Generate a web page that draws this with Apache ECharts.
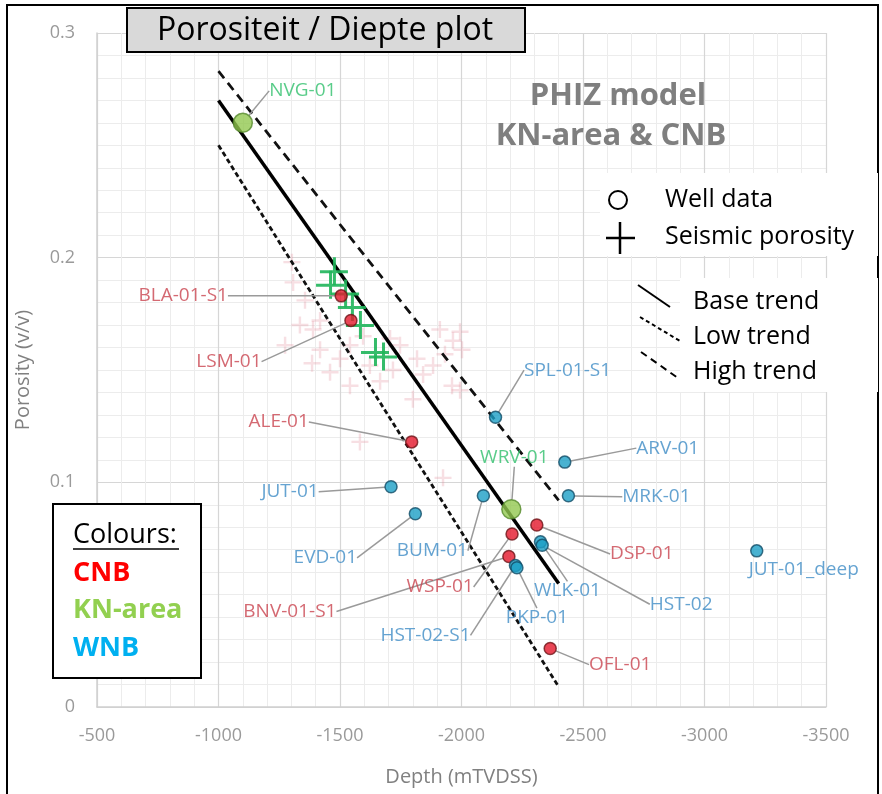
<!DOCTYPE html>
<html>
<head>
<meta charset="utf-8">
<script src="https://cdn.jsdelivr.net/npm/echarts@6/dist/echarts.min.js"></script>
<style>
  html, body { margin: 0; padding: 0; background: #fff; }
  #chart { width: 882px; height: 794px; }
</style>
</head>
<body>
<div id="chart"></div>
<script>
// ---- data ----
var wellNames  = ['NVG-01', 'BLA-01-S1', 'LSM-01', 'ALE-01', 'SPL-01-S1', 'ARV-01', 'MRK-01', 'JUT-01', 'EVD-01', 'BUM-01',
                  'WRV-01', 'DSP-01', 'WSP-01', 'WLK-01', 'HST-02', 'BNV-01-S1', 'HST-02-S1', 'PKP-01', 'OFL-01', 'JUT-01_deep'];
var wellDepth  = [-1100, -1505, -1545, -1795, -2140, -2425, -2440, -1710, -1810, -2090,
                  -2205, -2310, -2208, -2325, -2332, -2195, -2222, -2228, -2365, -3215];
var wellPhi    = [0.260, 0.183, 0.172, 0.118, 0.129, 0.109, 0.094, 0.098, 0.086, 0.094,
                  0.088, 0.081, 0.077, 0.0735, 0.072, 0.067, 0.063, 0.062, 0.026, 0.0695];
var wellRegion = ['KN', 'CNB', 'CNB', 'CNB', 'WNB', 'WNB', 'WNB', 'WNB', 'WNB', 'WNB',
                  'KN', 'CNB', 'CNB', 'WNB', 'WNB', 'CNB', 'WNB', 'WNB', 'CNB', 'WNB'];

// seismic porosity, KN-area (green crosses)
var seisKnDepth = [-1475, -1459, -1521, -1549, -1582, -1644, -1677];
var seisKnPhi   = [0.194, 0.188, 0.184, 0.178, 0.170, 0.158, 0.156];

// seismic porosity, other (faint crosses)
var seisDepth = [-1307, -1335, -1385, -1418, -1459, -1595, -1706, -1718, -1665, -1817, -1842, -1883, -1965, -1994, -2002, -1961,
                 -1994, -1800, -1582, -1924, -1302, -1389, -1274, -1500, -1541, -1356, -1911, -1747, -1623, -1932, -1541, -1418];
var seisPhi   = [0.189, 0.170, 0.153, 0.159, 0.149, 0.165, 0.164, 0.150, 0.145, 0.155, 0.148, 0.152, 0.163, 0.167, 0.159, 0.143,
                 0.141, 0.137, 0.118, 0.102, 0.198, 0.168, 0.161, 0.155, 0.161, 0.181, 0.168, 0.161, 0.152, 0.157, 0.143, 0.172];

// trend lines
var trendDepth = [-1000, -2400];
var baseTrend  = [0.270, 0.055];
var lowTrend   = [0.250, 0.009];
var highTrend  = [0.283, 0.092];

var xTicks = [-500, -1000, -1500, -2000, -2500, -3000, -3500];
var yTicks = [0, 0.1, 0.2, 0.3];

// ---- styling ----
var regionFill   = { CNB: '#e3172b', WNB: '#1c9fc6', KN: '#92c850' };
var regionBorder = { CNB: '#6e1418', WNB: '#114c66', KN: '#55892c' };
var regionText   = { CNB: '#c9434f', WNB: '#3f8cc6', KN: '#2fbf6c' };
// label offsets (px) from marker centre to label centre
var labelShift = {
    'NVG-01': [60, -32], 'BLA-01-S1': [-158, 0], 'LSM-01': [-122, 41], 'ALE-01': [-133, -20],
    'SPL-01-S1': [72, -47], 'ARV-01': [103, -14], 'MRK-01': [88, 1], 'JUT-01': [-101, 5],
    'EVD-01': [-90, 44], 'BUM-01': [-51, 55], 'WRV-01': [3, -52], 'DSP-01': [105, 29],
    'WSP-01': [-72, 53], 'WLK-01': [27, 49], 'HST-02': [139, 59], 'BNV-01-S1': [-219, 55],
    'HST-02-S1': [-90, 70], 'PKP-01': [20, 50], 'OFL-01': [70, 16], 'JUT-01_deep': [47, 19]
};

function pts(xs, ys) {
    return xs.map(function (x, i) { return [x, ys[i]]; });
}

var wellData = wellNames.map(function (n, i) {
    var r = wellRegion[i];
    return {
        name: n,
        value: [wellDepth[i], wellPhi[i]],
        symbolSize: r === 'KN' ? 19 : 12,
        itemStyle: { color: regionFill[r], borderColor: regionBorder[r], borderWidth: 1.5 },
        label: { color: regionText[r] },
        labelLine: { show: n !== 'JUT-01_deep' }
    };
});

var myChart = echarts.init(document.getElementById('chart'), null, { renderer: 'canvas' });
var labelFont = 'Open Sans';

var option = {
    backgroundColor: '#fff',
    animation: false,
    grid: { left: 97, right: 56, top: 33, bottom: 87 },
    xAxis: {
        type: 'value', inverse: true, min: -3500, max: -500, interval: 500,
        name: 'Depth (mTVDSS)', nameLocation: 'middle', nameGap: 60,
        nameTextStyle: { color: '#808080', fontSize: 20, fontFamily: labelFont },
        axisLine: { show: true, lineStyle: { color: '#d0d0d0', width: 1.5 } },
        axisTick: { show: false },
        axisLabel: { color: '#9a9a9a', fontSize: 18, margin: 20, fontFamily: labelFont,
                     formatter: function (v) { return String(v); } },
        splitLine: { show: true, lineStyle: { color: '#d6d6d6', width: 1.2 } },
        minorTick: { show: false, splitNumber: 5 },
        minorSplitLine: { show: true, lineStyle: { color: '#ececec', width: 1 } }
    },
    yAxis: {
        type: 'value', min: 0, max: 0.3, interval: 0.1,
        name: 'Porosity (v/v)', nameLocation: 'middle', nameGap: 64, nameRotate: 90,
        nameTextStyle: { color: '#808080', fontSize: 20, fontFamily: labelFont },
        axisLine: { show: true, lineStyle: { color: '#d0d0d0', width: 1.5 } },
        axisTick: { show: false },
        axisLabel: { color: '#9a9a9a', fontSize: 18, margin: 22, fontFamily: labelFont,
                     formatter: function (v) { var r = Math.round(v * 10) / 10; return yTicks.indexOf(r) >= 0 ? String(r) : ''; } },
        splitLine: { show: true, lineStyle: { color: '#d6d6d6', width: 1.2 } },
        minorTick: { show: false, splitNumber: 10 },
        minorSplitLine: { show: true, lineStyle: { color: '#ececec', width: 1 } }
    },
    series: [
        {
            name: 'Seismic other', type: 'scatter', z: 1,
            data: pts(seisDepth, seisPhi),
            symbol: 'path://M0,6 L14,6 L14,8 L0,8 Z M6,0 L8,0 L8,14 L6,14 Z',
            symbolSize: 17,
            itemStyle: { color: 'rgba(228,140,155,0.35)' },
            silent: true
        },
        {
            name: 'Low trend', type: 'line', z: 2, symbol: 'none',
            data: pts(trendDepth, lowTrend),
            lineStyle: { color: '#111', width: 2.8, type: [5, 3] }
        },
        {
            name: 'High trend', type: 'line', z: 2, symbol: 'none',
            data: pts(trendDepth, highTrend),
            lineStyle: { color: '#111', width: 2.8, type: [9, 6] }
        },
        {
            name: 'Base trend', type: 'line', z: 2, symbol: 'none',
            data: pts(trendDepth, baseTrend),
            lineStyle: { color: '#000', width: 3.5 }
        },
        {
            name: 'Seismic KN', type: 'scatter', z: 3,
            data: pts(seisKnDepth, seisKnPhi),
            symbol: 'path://M0,13 L28,13 L28,16 L0,16 Z M13,0 L16,0 L16,28 L13,28 Z',
            symbolSize: 28,
            itemStyle: { color: '#1fb55a', opacity: 0.9 },
            silent: true
        },
        {
            name: 'Wells', type: 'scatter', z: 4,
            data: wellData,
            label: {
                show: true, position: 'inside', fontSize: 19, fontFamily: labelFont,
                formatter: '{b}'
            },
            labelLine: { show: true, lineStyle: { color: '#9a9a9a', width: 1.5 } },
            labelLayout: function (p) {
                var s = labelShift[wellNames[p.dataIndex]] || [0, 0];
                return { dx: s[0], dy: s[1] };
            }
        }
    ],
    graphic: [
        // outer frame
        { type: 'rect', shape: { x: 7, y: 5, width: 871, height: 800 }, style: { fill: 'none', stroke: '#000', lineWidth: 2 }, z: 100 },
        // title box
        { type: 'rect', shape: { x: 127, y: 8, width: 398, height: 44 }, style: { fill: '#d9d9d9', stroke: '#000', lineWidth: 2 }, z: 100 },
        { type: 'text', x: 325, y: 31, style: { text: 'Porositeit / Diepte plot', font: '32px "Open Sans"', fill: '#000', align: 'center', verticalAlign: 'middle' }, z: 101 },
        // PHIZ model text
        { type: 'text', x: 618, y: 96, style: { text: 'PHIZ model', font: 'bold 31px "Open Sans"', fill: '#7f7f7f', align: 'center', verticalAlign: 'middle' }, z: 101 },
        { type: 'text', x: 611, y: 136, style: { text: 'KN-area & CNB', font: 'bold 31px "Open Sans"', fill: '#7f7f7f', align: 'center', verticalAlign: 'middle' }, z: 101 },
        // symbol legend
        { type: 'rect', shape: { x: 600, y: 173, width: 278, height: 83 }, style: { fill: '#fff' }, z: 100 },
        { type: 'circle', shape: { cx: 618, cy: 200, r: 9 }, style: { fill: 'none', stroke: '#000', lineWidth: 2 }, z: 101 },
        { type: 'line', shape: { x1: 606, y1: 238, x2: 635, y2: 238 }, style: { stroke: '#000', lineWidth: 2.5 }, z: 101 },
        { type: 'line', shape: { x1: 620, y1: 222, x2: 620, y2: 254 }, style: { stroke: '#000', lineWidth: 2.5 }, z: 101 },
        { type: 'text', x: 665, y: 200, style: { text: 'Well data', font: '25px "Open Sans"', fill: '#000', verticalAlign: 'middle' }, z: 101 },
        { type: 'text', x: 665, y: 237, style: { text: 'Seismic porosity', font: '25px "Open Sans"', fill: '#000', verticalAlign: 'middle' }, z: 101 },
        // trend legend
        { type: 'rect', shape: { x: 680, y: 278, width: 198, height: 114 }, style: { fill: '#fff' }, z: 100 },
        { type: 'line', shape: { x1: 638, y1: 285, x2: 670, y2: 307 }, style: { stroke: '#000', lineWidth: 2 }, z: 101 },
        { type: 'line', shape: { x1: 640, y1: 317, x2: 680, y2: 341 }, style: { stroke: '#000', lineWidth: 2, lineDash: [4, 3] }, z: 101 },
        { type: 'line', shape: { x1: 641, y1: 352, x2: 678, y2: 378 }, style: { stroke: '#000', lineWidth: 2, lineDash: [7, 5] }, z: 101 },
        { type: 'text', x: 693, y: 302, style: { text: 'Base trend', font: '25px "Open Sans"', fill: '#000', verticalAlign: 'middle' }, z: 101 },
        { type: 'text', x: 693, y: 337, style: { text: 'Low trend', font: '25px "Open Sans"', fill: '#000', verticalAlign: 'middle' }, z: 101 },
        { type: 'text', x: 693, y: 372, style: { text: 'High trend', font: '25px "Open Sans"', fill: '#000', verticalAlign: 'middle' }, z: 101 },
        // colours box
        { type: 'rect', shape: { x: 53, y: 504, width: 148, height: 174 }, style: { fill: '#fff', stroke: '#000', lineWidth: 2 }, z: 100 },
        { type: 'text', x: 73, y: 535, style: { text: 'Colours:', font: '27px "Open Sans"', fill: '#000', verticalAlign: 'middle' }, z: 101 },
        { type: 'line', shape: { x1: 73, y1: 549, x2: 179, y2: 549 }, style: { stroke: '#000', lineWidth: 1.5 }, z: 101 },
        { type: 'text', x: 73, y: 573, style: { text: 'CNB', font: 'bold 27px "Open Sans"', fill: '#ff0000', verticalAlign: 'middle' }, z: 101 },
        { type: 'text', x: 73, y: 610, style: { text: 'KN-area', font: 'bold 27px "Open Sans"', fill: '#92d050', verticalAlign: 'middle' }, z: 101 },
        { type: 'text', x: 73, y: 648, style: { text: 'WNB', font: 'bold 27px "Open Sans"', fill: '#00b0f0', verticalAlign: 'middle' }, z: 101 }
    ]
};

myChart.setOption(option);
</script>
</body>
</html>
